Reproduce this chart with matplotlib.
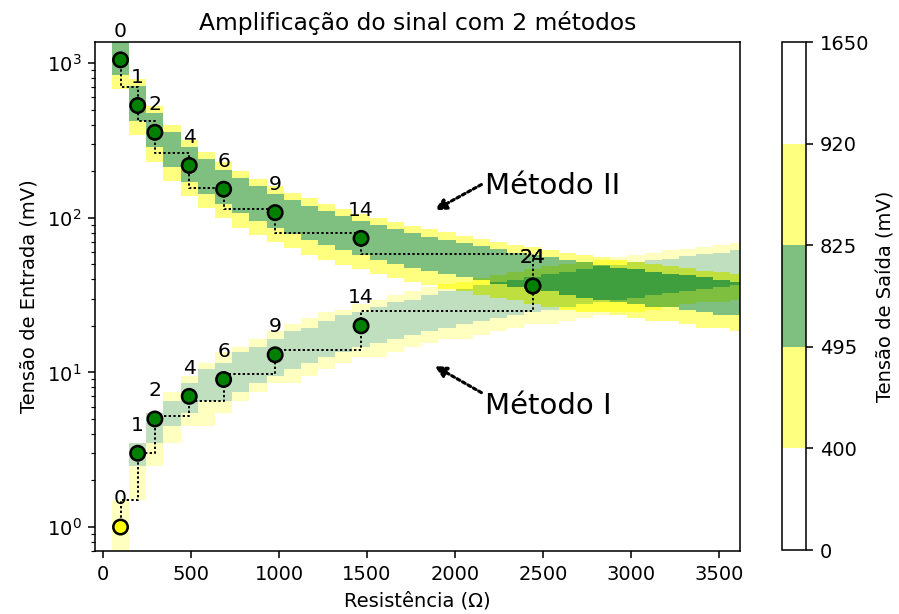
import numpy as np
import matplotlib
matplotlib.use("Agg")
import matplotlib.pyplot as plt
from matplotlib.colors import ListedColormap, BoundaryNorm

# ---------------- data ----------------
resistance = 100 + 97.6 * np.arange(38)    # Ω, column centres
vin_levels = np.arange(1, 1401)            # mV, row centres
gain_div_m2 = 170.0                        # Método II: Vout = Vin * R / 170
gain_num_m1 = 48500.0                      # Método I : Vout = Vin * 48500 / R

bounds = [0, 400, 495, 825, 920, 1650]
band_colors = ["white", "yellow", "green", "yellow", "white"]

point_idx = [0, 1, 2, 4, 6, 9, 14, 24]
vin_pts_m2 = [1050, 532, 357, 218, 153, 108, 73.6, 36.2]
step_m2 = [706, 423, 261.5, 155, 113.5, 80.1, 58.2]
vin_pts_m1 = [1, 3, 5, 7, 9, 13, 20, 36.2]
step_m1 = [1.5, 3.0, 5.2, 6.5, 9.7, 13.9, 24.9]

# ---------------- figure ----------------
W, H, DPI = 899, 614, 140
fig = plt.figure(figsize=(W / DPI, H / DPI), dpi=DPI)
ax = fig.add_axes([95 / W, 1 - 551 / H, 645 / W, 509 / H])
cax = fig.add_axes([782 / W, 1 - 550 / H, 24 / W, 508 / H])

cmap = ListedColormap(band_colors)
norm = BoundaryNorm(bounds, cmap.N)

half = (resistance[1] - resistance[0]) / 2
r_edges = np.append(resistance - half, resistance[-1] + half)
v_edges = np.append(vin_levels - 0.5, vin_levels[-1] + 0.5)

R, V = np.meshgrid(resistance, vin_levels)
vout_m1 = np.clip(V * gain_num_m1 / R, 0, 1649)
vout_m2 = np.clip(V * R / gain_div_m2, 0, 1649)

ax.pcolormesh(r_edges, v_edges, vout_m1, cmap=cmap, norm=norm, alpha=0.5,
              shading="flat", antialiased=False, edgecolors="none")
mesh2 = ax.pcolormesh(r_edges, v_edges, vout_m2, cmap=cmap, norm=norm, alpha=0.5,
                      shading="flat", antialiased=False, edgecolors="none")

ax.set_yscale("log")


def step_path(xs, ys, levels):
    px, py = [xs[0]], [ys[0]]
    for i in range(len(xs) - 1):
        px += [xs[i], xs[i + 1], xs[i + 1]]
        py += [levels[i], levels[i], ys[i + 1]]
    return px, py


x_pts = resistance[point_idx]
for vals, steps, coef in [(vin_pts_m2, step_m2, "m2"), (vin_pts_m1, step_m1, "m1")]:
    sx, sy = step_path(x_pts, vals, steps)
    ax.plot(sx, sy, color="black", lw=1.0, ls=(0, (1.2, 1.2)), zorder=3)
    vals = np.asarray(vals, float)
    if coef == "m2":
        vo = vals * x_pts / gain_div_m2
    else:
        vo = vals * gain_num_m1 / x_pts
    ax.scatter(x_pts, vals, s=55, c=cmap(norm(vo)), edgecolors="black",
               linewidths=1.3, zorder=4)
    for n, x, y in zip(point_idx, x_pts, vals):
        ax.annotate(str(n), (x, y), xytext=(0, 14.5), textcoords="offset points",
                    ha="center", va="center", fontsize=10.5, zorder=5)

arrow_kw = dict(arrowstyle="-|>", ls=(0, (1, 1)), lw=1.6, color="black",
                mutation_scale=12, shrinkA=0, shrinkB=0)
ax.text(2170, 160, "Método II", fontsize=15, ha="left", va="center")
ax.annotate("", xy=(1885, 112), xytext=(2150, 164), arrowprops=arrow_kw)
ax.text(2170, 6.05, "Método I", fontsize=15, ha="left", va="center")
ax.annotate("", xy=(1885, 11.0), xytext=(2150, 7.4), arrowprops=arrow_kw)

ax.set_xlim(-45, 3619)
ax.set_ylim(0.7, 1370)
ax.set_xticks([0, 500, 1000, 1500, 2000, 2500, 3000, 3500])
ax.set_xlabel("Resistência (Ω)")
ax.set_ylabel("Tensão de Entrada (mV)")
ax.set_title("Amplificação do sinal com 2 métodos")

cb = fig.colorbar(mesh2, cax=cax, ticks=bounds)
cb.set_label("Tensão de Saída (mV)")

fig.savefig("out.png", dpi=DPI)
